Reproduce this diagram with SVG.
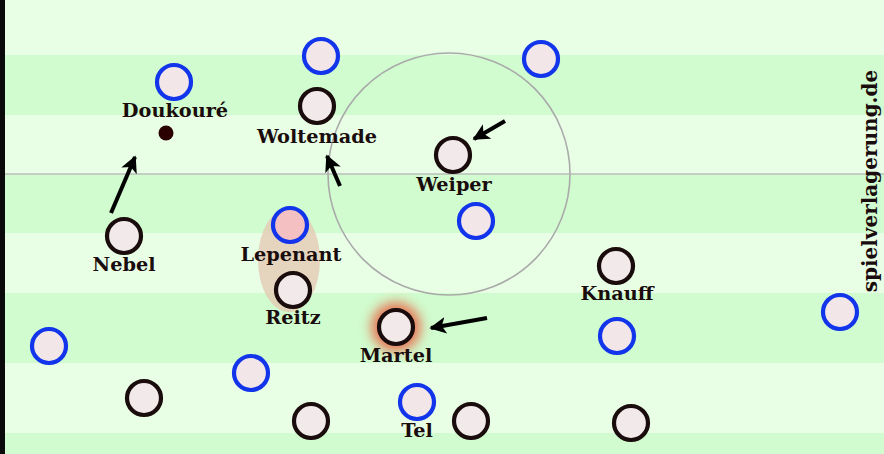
<svg xmlns="http://www.w3.org/2000/svg" width="884" height="454" viewBox="0 0 884 454">
<defs>
<style>
.lt{fill:#e8ffe6}
.dk{fill:#d0fccf}
.own{fill:#f2eaea;stroke:#1a0c0c;stroke-width:4.2}
.opp{fill:#f2e6e8;stroke:#1234ea;stroke-width:4.2}
.lbl{font-family:"DejaVu Serif","Liberation Serif",serif;font-weight:bold;font-size:19.3px;fill:#1a0c0c;text-anchor:middle}
.wm{font-size:20px}
.arr{stroke:#000;stroke-width:4;fill:none;marker-end:url(#ah)}
</style>
<marker id="ah" viewBox="0 0 10 10" refX="9" refY="5" markerWidth="4.2" markerHeight="4.2" orient="auto" markerUnits="strokeWidth">
<path d="M0,0 L10,5 L0,10 L2.5,5 Z" fill="#000"/>
</marker>
<filter id="glow" x="-1" y="-1" width="3" height="3">
<feGaussianBlur stdDeviation="6"/>
</filter>
</defs>
<g id="pitch">
<rect x="0" y="0" width="884" height="454" class="lt"/>
<rect x="0" y="55" width="884" height="60" class="dk"/>
<rect x="0" y="174" width="884" height="59" class="dk"/>
<rect x="0" y="293" width="884" height="70" class="dk"/>
<rect x="0" y="433" width="884" height="21" class="dk"/>
<line x1="0" y1="174" x2="884" y2="174" stroke="#bcbcbc" stroke-width="1.3"/>
<circle cx="449" cy="174" r="121" fill="none" stroke="#aaaaaa" stroke-width="1.6"/>
<rect x="0" y="0" width="5" height="454" fill="#0a0a0a"/>
</g>
<g id="pressing-zone">
<ellipse cx="289" cy="260" rx="31" ry="52" fill="#e4c8b2" opacity="0.78"/>
</g>
<g id="opponents">
<circle id="o1" cx="174" cy="82" r="17" class="opp"/>
<circle id="o2" cx="321" cy="56" r="17" class="opp"/>
<circle id="o3" cx="541" cy="59" r="17" class="opp"/>
<circle id="o4" cx="476" cy="221" r="17" class="opp"/>
<circle id="o5" cx="49" cy="346" r="17" class="opp"/>
<circle id="o6" cx="251" cy="373" r="17" class="opp"/>
<circle id="o7" cx="417" cy="402" r="17" class="opp"/>
<circle id="o8" cx="617" cy="336" r="17" class="opp"/>
<circle id="o9" cx="840" cy="312" r="17" class="opp"/>
</g>
<g id="lepenant">
<circle cx="290" cy="225" r="17" class="opp" style="fill:#f4c0c2"/>
<text x="291" y="261" class="lbl">Lepenant</text>
</g>
<g id="doukoure">
<circle cx="166" cy="133" r="7.5" fill="#2a0000"/>
<text x="175" y="117" class="lbl">Doukouré</text>
</g>
<g id="woltemade">
<circle cx="317" cy="106" r="17" class="own"/>
<text x="317" y="143" class="lbl">Woltemade</text>
</g>
<g id="weiper">
<circle cx="453" cy="155" r="17" class="own"/>
<text x="454" y="191" class="lbl">Weiper</text>
</g>
<g id="nebel">
<circle cx="124" cy="236" r="17" class="own"/>
<text x="124" y="271" class="lbl">Nebel</text>
</g>
<g id="reitz">
<circle cx="293" cy="290" r="17" class="own"/>
<text x="293" y="324" class="lbl">Reitz</text>
</g>
<g id="martel">
<circle cx="396" cy="327" r="25" fill="#f04020" opacity="0.7" filter="url(#glow)"/>
<circle cx="396" cy="327" r="17" class="own"/>
<text x="396" y="362" class="lbl">Martel</text>
</g>
<g id="knauff">
<circle cx="616" cy="266" r="17" class="own"/>
<text x="617" y="300" class="lbl">Knauff</text>
</g>
<g id="tel">
<text x="417" y="437" class="lbl">Tel</text>
</g>
<g id="own-others">
<circle cx="144" cy="398" r="17" class="own"/>
<circle cx="311" cy="421" r="17" class="own"/>
<circle cx="471" cy="421" r="17" class="own"/>
<circle cx="631" cy="423" r="17" class="own"/>
</g>
<g id="connectors">
<line x1="111" y1="213" x2="135" y2="157" class="arr"/>
<line x1="340" y1="186" x2="327" y2="156" class="arr"/>
<line x1="505" y1="121" x2="474" y2="139" class="arr"/>
<line x1="487" y1="318" x2="431" y2="328" class="arr"/>
</g>
<g id="watermark">
<text transform="translate(877,181) rotate(-90)" class="lbl wm">spielverlagerung.de</text>
</g>
</svg>
